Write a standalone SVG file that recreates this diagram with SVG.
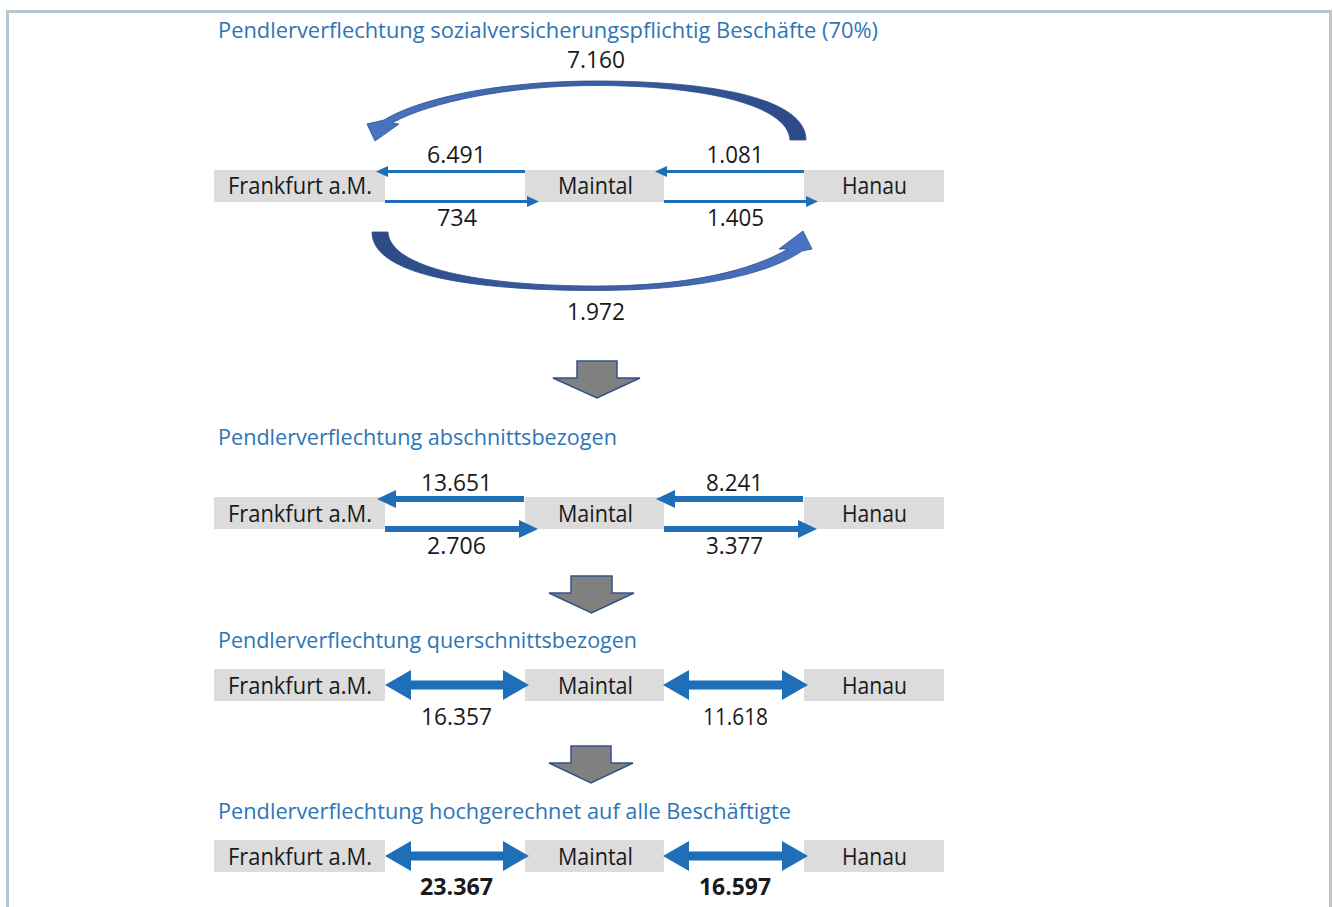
<svg xmlns="http://www.w3.org/2000/svg" width="1333" height="907" viewBox="0 0 1333 907">
<style>
.box{fill:#dcdcdc}
.lbl{font-family:"Open Sans","Noto Sans",sans-serif;font-size:23px;fill:#1a1a1a;text-anchor:middle}
.num{font-family:"Open Sans","Noto Sans",sans-serif;font-size:23px;fill:#1a1a1a;text-anchor:middle}
.bold{font-weight:bold}
.ttl{font-family:"Open Sans","Noto Sans",sans-serif;font-size:22px;fill:#2e75b6}
.arr{fill:#1f6fb8}
.down{fill:#808080;stroke:#34518a;stroke-width:1.5;stroke-linejoin:miter}
.curve{stroke:#2f4f8a;stroke-width:0.8}
</style>
<defs>
<linearGradient id="gTop" x1="1" y1="0" x2="0" y2="0">
<stop offset="0" stop-color="#2c4a86"/>
<stop offset="1" stop-color="#4a74c4"/>
</linearGradient>
<linearGradient id="gBot" x1="0" y1="0" x2="1" y2="0">
<stop offset="0" stop-color="#2c4a86"/>
<stop offset="1" stop-color="#4a74c4"/>
</linearGradient>
</defs>
<rect width="1333" height="907" fill="#ffffff"/>
<path d="M7.5,907 V11.5 H1330.5 V907" fill="none" stroke="#b9c6ce" stroke-width="3"/>

<!-- titles -->
<text class="ttl" x="218" y="38" textLength="660" lengthAdjust="spacingAndGlyphs">Pendlerverflechtung sozialversicherungspflichtig Beschäfte (70%)</text>
<text class="ttl" x="218" y="445" textLength="399" lengthAdjust="spacingAndGlyphs">Pendlerverflechtung abschnittsbezogen</text>
<text class="ttl" x="218" y="648" textLength="419" lengthAdjust="spacingAndGlyphs">Pendlerverflechtung querschnittsbezogen</text>
<text class="ttl" x="218" y="819" textLength="573" lengthAdjust="spacingAndGlyphs">Pendlerverflechtung hochgerechnet auf alle Beschäftigte</text>

<!-- row 1 nodes -->
<g id="r1-frankfurt"><rect class="box" x="214" y="170" width="171" height="32"/><text class="lbl" x="300" y="194" textLength="144" lengthAdjust="spacingAndGlyphs">Frankfurt a.M.</text></g>
<g id="r1-maintal"><rect class="box" x="525" y="170" width="139" height="32"/><text class="lbl" x="595.5" y="194" textLength="75" lengthAdjust="spacingAndGlyphs">Maintal</text></g>
<g id="r1-hanau"><rect class="box" x="804" y="170" width="140" height="32"/><text class="lbl" x="874.5" y="194" textLength="65" lengthAdjust="spacingAndGlyphs">Hanau</text></g>

<!-- row 2 nodes -->
<g id="r2-frankfurt"><rect class="box" x="214" y="497" width="171" height="32"/><text class="lbl" x="300" y="521.5" textLength="144" lengthAdjust="spacingAndGlyphs">Frankfurt a.M.</text></g>
<g id="r2-maintal"><rect class="box" x="525" y="497" width="139" height="32"/><text class="lbl" x="595.5" y="521.5" textLength="75" lengthAdjust="spacingAndGlyphs">Maintal</text></g>
<g id="r2-hanau"><rect class="box" x="804" y="497" width="140" height="32"/><text class="lbl" x="874.5" y="521.5" textLength="65" lengthAdjust="spacingAndGlyphs">Hanau</text></g>

<!-- row 3 nodes -->
<g id="r3-frankfurt"><rect class="box" x="214" y="669" width="171" height="32"/><text class="lbl" x="300" y="693.5" textLength="144" lengthAdjust="spacingAndGlyphs">Frankfurt a.M.</text></g>
<g id="r3-maintal"><rect class="box" x="525" y="669" width="139" height="32"/><text class="lbl" x="595.5" y="693.5" textLength="75" lengthAdjust="spacingAndGlyphs">Maintal</text></g>
<g id="r3-hanau"><rect class="box" x="804" y="669" width="140" height="32"/><text class="lbl" x="874.5" y="693.5" textLength="65" lengthAdjust="spacingAndGlyphs">Hanau</text></g>

<!-- row 4 nodes -->
<g id="r4-frankfurt"><rect class="box" x="214" y="840" width="171" height="32"/><text class="lbl" x="300" y="864.5" textLength="144" lengthAdjust="spacingAndGlyphs">Frankfurt a.M.</text></g>
<g id="r4-maintal"><rect class="box" x="525" y="840" width="139" height="32"/><text class="lbl" x="595.5" y="864.5" textLength="75" lengthAdjust="spacingAndGlyphs">Maintal</text></g>
<g id="r4-hanau"><rect class="box" x="804" y="840" width="140" height="32"/><text class="lbl" x="874.5" y="864.5" textLength="65" lengthAdjust="spacingAndGlyphs">Hanau</text></g>

<g id="connectors">
<!-- curved arrows row 1 -->
<path class="curve" fill="url(#gTop)" d="M806,140 C806,100 720,81 596,81 C500,81 420,98 384,120 L367,124 L375,141 L399,124 L392,123 C430,102 510,85.5 596,85.5 C700,85.5 788,104 790,140 Z"/>
<path class="curve" fill="url(#gBot)" d="M388,232 C390,268 480,286 597,286 C690,286 752,270 788,249 L779,249 L803,231 L812,249 L802,251 C766,276 690,290.5 597,290.5 C470,290.5 372,275 372,232 Z"/>
<!-- row 1 straight arrows -->
<path class="arr" d="M525,170 H388 V166 L376,171.5 L388,177 V173 H525 Z"/>
<path class="arr" d="M385,200 H527 V196 L539,201.5 L527,207 V203 H385 Z"/>
<path class="arr" d="M804,170 H667 V166 L655,171.5 L667,177 V173 H804 Z"/>
<path class="arr" d="M664,200 H806 V196 L818,201.5 L806,207 V203 H664 Z"/>
<!-- row 2 arrows -->
<path class="arr" d="M524,496 H396 V490 L377,499 L396,508 V502 H524 Z"/>
<path class="arr" d="M385,526 H519 V520 L538,529 L519,538 V532 H385 Z"/>
<path class="arr" d="M803,496 H675 V490 L656,499 L675,508 V502 H803 Z"/>
<path class="arr" d="M664,526 H798 V520 L817,529 L798,538 V532 H664 Z"/>
<!-- row 3 double arrows -->
<path class="arr" d="M385,685 L411,670 V680.5 H503 V670 L529,685 L503,700 V689.5 H411 V700 Z"/>
<path class="arr" d="M663,685 L689,670 V680.5 H782 V670 L808,685 L782,700 V689.5 H689 V700 Z"/>
<!-- row 4 double arrows -->
<path class="arr" d="M385,856 L411,841 V851.5 H503 V841 L529,856 L503,871 V860.5 H411 V871 Z"/>
<path class="arr" d="M663,856 L689,841 V851.5 H782 V841 L808,856 L782,871 V860.5 H689 V871 Z"/>
<!-- gray down arrows -->
<path class="down" d="M577,361 H617 V378 H640 L597,398 L553,378 H577 Z"/>
<path class="down" d="M571,576 H612 V593 H634 L591.5,613 L549,593 H571 Z"/>
<path class="down" d="M571,746 H611 V763 H633 L591,783 L549,763 H571 Z"/>
</g>

<!-- numbers -->
<text class="num" x="596" y="68" textLength="58" lengthAdjust="spacingAndGlyphs">7.160</text>
<text class="num" x="456.5" y="163" textLength="59" lengthAdjust="spacingAndGlyphs">6.491</text>
<text class="num" x="735" y="163" textLength="57" lengthAdjust="spacingAndGlyphs">1.081</text>
<text class="num" x="457" y="226" textLength="40" lengthAdjust="spacingAndGlyphs">734</text>
<text class="num" x="735.5" y="226" textLength="57" lengthAdjust="spacingAndGlyphs">1.405</text>
<text class="num" x="596" y="320" textLength="58" lengthAdjust="spacingAndGlyphs">1.972</text>
<text class="num" x="456.5" y="491" textLength="71" lengthAdjust="spacingAndGlyphs">13.651</text>
<text class="num" x="734.5" y="491" textLength="57" lengthAdjust="spacingAndGlyphs">8.241</text>
<text class="num" x="456.5" y="554" textLength="59" lengthAdjust="spacingAndGlyphs">2.706</text>
<text class="num" x="734.5" y="554" textLength="57" lengthAdjust="spacingAndGlyphs">3.377</text>
<text class="num" x="456.5" y="725" textLength="71" lengthAdjust="spacingAndGlyphs">16.357</text>
<text class="num" x="735.5" y="725" textLength="65" lengthAdjust="spacingAndGlyphs">11.618</text>
<text class="num bold" x="456.5" y="895" textLength="73" lengthAdjust="spacingAndGlyphs">23.367</text>
<text class="num bold" x="735" y="895" textLength="72" lengthAdjust="spacingAndGlyphs">16.597</text>
</svg>
